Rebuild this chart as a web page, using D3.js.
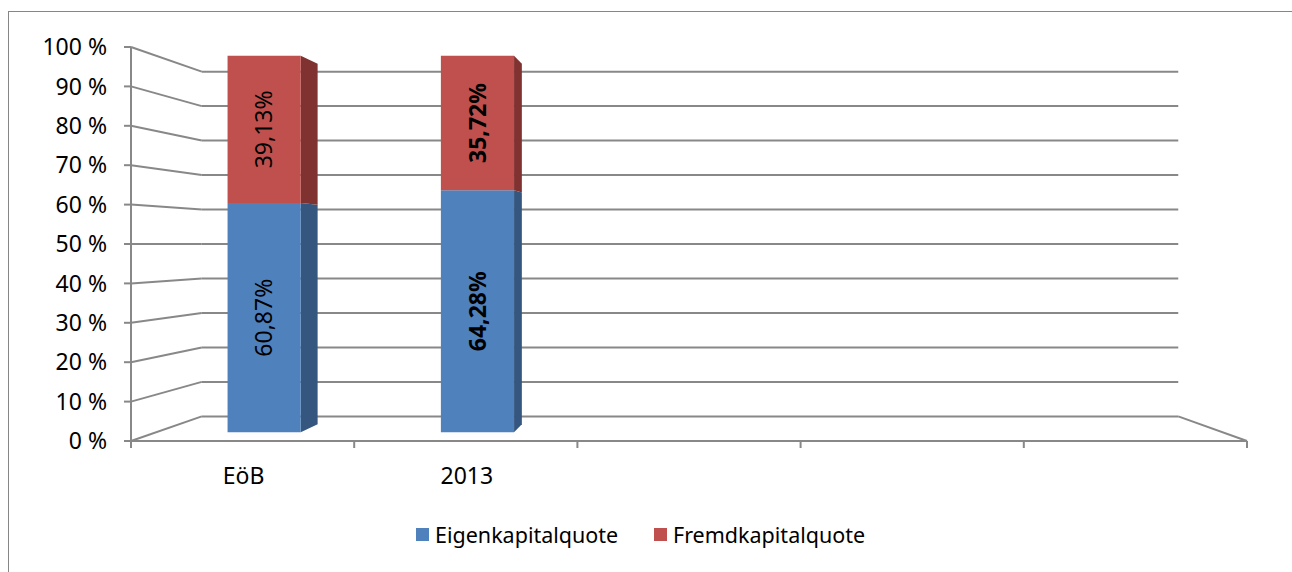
<!DOCTYPE html>
<html lang="de">
<head>
<meta charset="UTF-8">
<title>Eigenkapitalquote</title>
<script src="https://d3js.org/d3.v7.min.js"></script>
<style>
  body { margin: 0; background: #fff; }
  svg { display: block; font-family: "Noto Sans", "Open Sans", sans-serif; }
  .grid line, .axis line { stroke: #888; stroke-width: 2; }
  .tick-label { font-size: 23px; fill: #000; }
  .bar-label { font-size: 23px; fill: #000; }
  .legend text { font-size: 21.5px; fill: #000; }
</style>
</head>
<body>
<script>

// data
var categories = ["EöB", "2013", "", "", ""];
var eigenkapital = [60.87, 64.28];
var fremdkapital = [39.13, 35.72];
var eigenLabels = ["60,87%", "64,28%"];
var fremdLabels = ["39,13%", "35,72%"];
var labelBold = [false, true];
var yTicks = [0, 10, 20, 30, 40, 50, 60, 70, 80, 90, 100];
var yTickLabels = yTicks.map(function(d) { return d + " %"; });
var seriesNames = ["Eigenkapitalquote", "Fremdkapitalquote"];
var colors = ["#4f81bd", "#c0504d"];
var sideColors = ["#35577f", "#7f3230"];

var W = 1292, H = 572;

var svg = d3.select("body").append("svg")
    .attr("width", W)
    .attr("height", H);

// chart border (runs past the right/bottom edge)
svg.append("rect")
    .attr("x", 8.5).attr("y", 11.5)
    .attr("width", 1320).attr("height", 600)
    .attr("fill", "none")
    .attr("stroke", "#868686")
    .attr("stroke-width", 1);

// front plane scales
var x = d3.scaleBand().domain(d3.range(categories.length)).range([131, 1247]);
var y = d3.scaleLinear().domain([0, 100]).range([441, 47]);
// depth: 0 = front plane, 1 = back wall
var depth = d3.scaleLinear().domain([0, 1]).range([1, 0.875]);
var vp = [697, 244];

function proj(X, Y, t) {
  var f = depth(t);
  return [vp[0] + (X - vp[0]) * f, vp[1] + (Y - vp[1]) * f];
}

var line = d3.line();

// walls / gridlines
var grid = svg.append("g").attr("class", "grid");
yTicks.forEach(function(v) {
  var a = proj(x.range()[0], y(v), 0),
      b = proj(x.range()[0], y(v), 1),
      c = proj(x.range()[1], y(v), 1);
  grid.append("line").attr("x1", a[0]).attr("y1", a[1]).attr("x2", b[0]).attr("y2", b[1]);
  grid.append("line").attr("x1", b[0]).attr("y1", b[1]).attr("x2", c[0]).attr("y2", c[1]);
});
var fr0 = proj(x.range()[1], y(0), 0), fr1 = proj(x.range()[1], y(0), 1);
grid.append("line").attr("x1", fr0[0]).attr("y1", fr0[1]).attr("x2", fr1[0]).attr("y2", fr1[1]);

// axes
var axis = svg.append("g").attr("class", "axis");
axis.append("line").attr("x1", 131).attr("x2", 131).attr("y1", y(100)).attr("y2", y(0) + 7);
axis.append("line").attr("x1", 131).attr("x2", 1247).attr("y1", y(0)).attr("y2", y(0));
axis.selectAll(".ytick").data(yTicks).enter().append("line")
    .attr("x1", 124).attr("x2", 131)
    .attr("y1", function(d) { return y(d); })
    .attr("y2", function(d) { return y(d); });
var xTickPos = x.domain().map(function(i) { return x(i); }).concat([x.range()[1]]);
axis.selectAll(".xtick").data(xTickPos).enter().append("line")
    .attr("x1", function(d) { return d; }).attr("x2", function(d) { return d; })
    .attr("y1", y(0)).attr("y2", y(0) + 7);

svg.selectAll(".ylab").data(yTicks).enter().append("text")
    .attr("class", "tick-label")
    .attr("x", 107)
    .attr("y", function(d) { return y(d); })
    .attr("dy", "0.36em")
    .attr("text-anchor", "end")
    .text(function(d, i) { return yTickLabels[i]; });

svg.selectAll(".xlab").data(categories).enter().append("text")
    .attr("class", "tick-label")
    .attr("x", function(d, i) { return x(i) + x.bandwidth() / 2 + 1; })
    .attr("y", 484)
    .attr("text-anchor", "middle")
    .text(function(d) { return d; });

// bars
var barW = x.bandwidth() * 0.343;
var t1 = 0.354, t2 = 0.68;

function poly(pts) { return line(pts) + "Z"; }

eigenkapital.forEach(function(e, i) {
  var cx = x(i) + x.bandwidth() / 2 + 1.5;
  var xl = cx - barW / 2, xr = cx + barW / 2;
  var segs = [
    {v0: 0, v1: e, s: 0, label: eigenLabels[i]},
    {v0: e, v1: e + fremdkapital[i], s: 1, label: fremdLabels[i]}
  ];
  segs.forEach(function(sg) {
    var g = svg.append("g");
    g.append("path")
        .attr("d", poly([proj(xr, y(sg.v0), t1), proj(xr, y(sg.v0), t2), proj(xr, y(sg.v1), t2), proj(xr, y(sg.v1), t1)]))
        .attr("fill", sideColors[sg.s]);
    g.append("path")
        .attr("d", poly([proj(xl, y(sg.v0), t1), proj(xr, y(sg.v0), t1), proj(xr, y(sg.v1), t1), proj(xl, y(sg.v1), t1)]))
        .attr("fill", colors[sg.s]);
    var c = proj(cx, y((sg.v0 + sg.v1) / 2), t1);
    g.append("text")
        .attr("class", "bar-label")
        .attr("transform", "translate(" + c[0] + "," + c[1] + ") rotate(-90)")
        .attr("text-anchor", "middle")
        .attr("dy", "0.36em")
        .style("font-weight", labelBold[i] ? "bold" : "normal")
        .text(sg.label);
  });
});

// legend
var legend = svg.append("g").attr("class", "legend");
var legX = [416, 654];
seriesNames.forEach(function(name, i) {
  legend.append("rect")
      .attr("x", legX[i]).attr("y", 528)
      .attr("width", 13).attr("height", 13)
      .attr("fill", colors[i]);
  legend.append("text")
      .attr("x", legX[i] + 19).attr("y", 535)
      .attr("dy", "0.36em")
      .text(name);
});

</script>
</body>
</html>
